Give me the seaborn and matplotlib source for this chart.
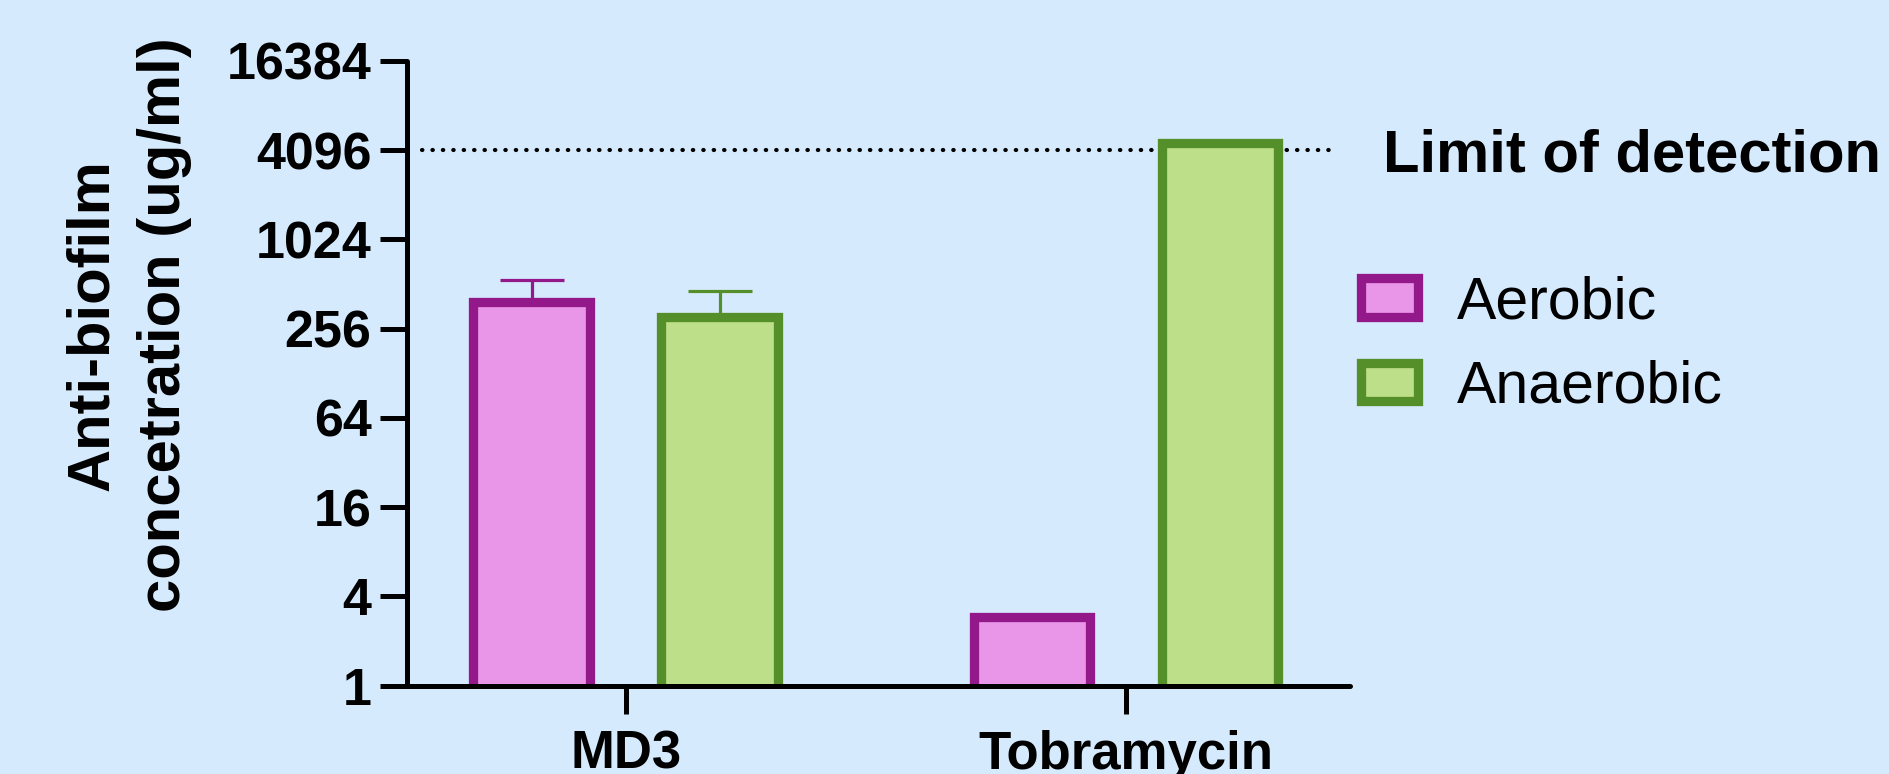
import matplotlib
matplotlib.use('Agg')
import matplotlib.pyplot as plt
import seaborn as sns
import pandas as pd
import numpy as np

# values (log2 axis)
compounds = ['MD3', 'Tobramycin']
conditions = ['Aerobic', 'Anaerobic']
aerobic_vals = [388, 2.9]
anaerobic_vals = [307, 4600]
aerobic_err = [153, 0]
anaerobic_err = [149, 0]
limit_of_detection = 4096
yticks = [1, 4, 16, 64, 256, 1024, 4096, 16384]

fill_colors = ['#E996E9', '#BDDF89']
edge_colors = ['#93198B', '#558F29']
bg = '#D6EAFD'

df = pd.DataFrame({
    'compound': compounds * 2,
    'condition': ['Aerobic'] * 2 + ['Anaerobic'] * 2,
    'value': aerobic_vals + anaerobic_vals,
})

plt.rcParams['font.family'] = ['Liberation Sans', 'DejaVu Sans']

fig = plt.figure(figsize=(18.9, 7.74), dpi=100, facecolor=bg)
ax = fig.add_axes([0.2153, 0.1143, 0.4990, 0.8069])
ax.set_facecolor(bg)

sns.barplot(data=df, x='compound', y='value', hue='condition', order=compounds,
            hue_order=conditions, palette=fill_colors, errorbar=None,
            width=0.752, gap=0.378, linewidth=6.7, saturation=1, ax=ax,
            legend=False)

# edge colour per condition + upper error bars
bar_conts = list(ax.containers)
errs = [aerobic_err, anaerobic_err]
for i, cont in enumerate(bar_conts):
    for p in cont.patches:
        p.set_edgecolor(edge_colors[i])
        p.set_linewidth(6.7)
    xs = np.array([p.get_x() + p.get_width() / 2 for p in cont.patches])
    ys = np.array([p.get_height() for p in cont.patches])
    e = np.array(errs[i])
    keep = e > 0
    ax.errorbar(xs[keep], ys[keep],
                yerr=[np.zeros(keep.sum()), e[keep]], fmt='none',
                ecolor=edge_colors[i], elinewidth=2.3, capsize=23,
                capthick=2.3, zorder=1)

ax.set_yscale('log', base=2)
ax.set_ylim(1, 16384)
ax.set_yticks(yticks)
ax.set_yticklabels([str(t) for t in yticks])
ax.minorticks_off()
ax.set_xlim(-0.438, 1.448)

ax.hlines(limit_of_detection, -0.408, 1.416, colors='black',
          linestyles=(0, (0.1, 2.4)), linewidth=3.0, capstyle='round',
          zorder=0.5)
ax.annotate('Limit of detection', xy=(1.514, limit_of_detection),
            xytext=(0, -15.5), textcoords='offset points', fontsize=43,
            fontweight='bold', va='baseline', ha='left',
            annotation_clip=False)

for s in ['top', 'right']:
    ax.spines[s].set_visible(False)
for s in ['left', 'bottom']:
    ax.spines[s].set_linewidth(3.6)
    ax.spines[s].set_color('black')
    ax.spines[s].set_capstyle('round')
ax.tick_params(axis='y', length=19.5, width=3.6, pad=6, labelsize=37.5)
ax.tick_params(axis='x', length=20, width=3.6, pad=12, labelsize=38)
for lab in ax.get_xticklabels() + ax.get_yticklabels():
    lab.set_fontweight('bold')
ax.set_xlabel('')
ax.set_ylabel('')

fig.text(108 / 1890, 1 - 325 / 774, 'Anti-biofilm', rotation=90,
         rotation_mode='anchor', ha='center', va='baseline', fontsize=43,
         fontweight='bold')
fig.text(180 / 1890, 1 - 325 / 774, 'concetration (ug/ml)', rotation=90,
         rotation_mode='anchor', ha='center', va='baseline', fontsize=43,
         fontweight='bold')

handles = [c.patches[0] for c in bar_conts]
ax.legend(handles, conditions, loc='upper left', bbox_to_anchor=(0.720, 0.6445),
          bbox_transform=fig.transFigure, frameon=False, fontsize=42.5,
          handlelength=0.97, handleheight=0.62, handletextpad=0.66,
          borderpad=0, borderaxespad=0, labelspacing=0.5)

plt.savefig('out.png', dpi=100, facecolor=bg)
